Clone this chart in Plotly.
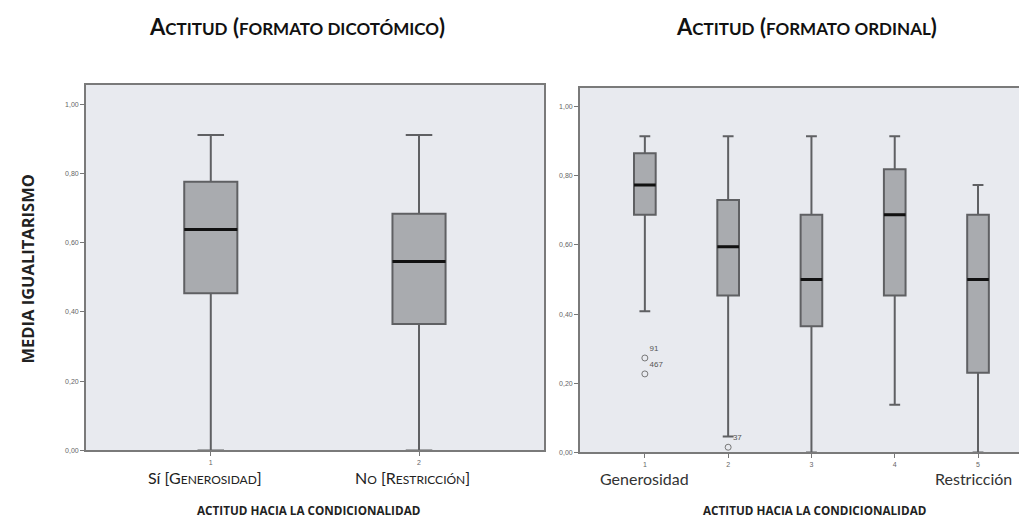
import plotly.graph_objects as go

# ---- data: left panel (dichotomous) ----
dico_cats = [1, 2]
dico_q1 = [0.454, 0.365]
dico_med = [0.638, 0.546]
dico_q3 = [0.776, 0.684]
dico_lo = [0.0, 0.0]
dico_hi = [0.911, 0.911]
dico_labels = ["Sí [G<span style='font-size:12px'>ENEROSIDAD</span>]",
               "N<span style='font-size:12px'>O</span> [R<span style='font-size:12px'>ESTRICCIÓN</span>]"]

# ---- data: right panel (ordinal) ----
ord_cats = [1, 2, 3, 4, 5]
ord_q1 = [0.687, 0.454, 0.365, 0.454, 0.230]
ord_med = [0.773, 0.595, 0.500, 0.687, 0.500]
ord_q3 = [0.865, 0.730, 0.687, 0.819, 0.687]
ord_lo = [0.408, 0.046, 0.0, 0.138, 0.0]
ord_hi = [0.914, 0.914, 0.914, 0.914, 0.773]
ord_end_labels = {1: "Generosidad", 5: "Restricción"}

# outliers (category, value, case label)
out_cat = [1, 1, 2]
out_val = [0.273, 0.227, 0.015]
out_lab = ["91", "467", "37"]

y_ticks = [0.0, 0.2, 0.4, 0.6, 0.8, 1.0]
y_ticktext = ["0,00", "0,20", "0,40", "0,60", "0,80", "1,00"]

titles = ["A<span style='font-size:17px'>CTITUD</span> (<span style='font-size:17px'>FORMATO DICOTÓMICO</span>)",
          "A<span style='font-size:17px'>CTITUD</span> (<span style='font-size:17px'>FORMATO ORDINAL</span>)"]

BOX_FILL = "#a9abaf"
BOX_LINE = "#5f6063"
BG = "#e8eaef"
FONT = "Lato"
FONT_B = "Open Sans"

fig = go.Figure()

def add_boxes(cats, q1, med, q3, lo, hi, width, xa, ya):
    fig.add_trace(go.Box(
        x=cats, q1=q1, median=med, q3=q3, lowerfence=lo, upperfence=hi,
        width=width, whiskerwidth=0.5, fillcolor=BOX_FILL,
        line=dict(color=BOX_LINE, width=2), boxpoints=False,
        xaxis=xa, yaxis=ya, showlegend=False, hoverinfo="skip"))
    mx, my = [], []
    for c, m in zip(cats, med):
        mx += [c - width / 2, c + width / 2, None]
        my += [m, m, None]
    fig.add_trace(go.Scatter(x=mx, y=my, mode="lines",
                             line=dict(color="#111111", width=3),
                             xaxis=xa, yaxis=ya, showlegend=False, hoverinfo="skip"))

add_boxes(dico_cats, dico_q1, dico_med, dico_q3, dico_lo, dico_hi, 0.255, "x", "y")
add_boxes(ord_cats, ord_q1, ord_med, ord_q3, ord_lo, ord_hi, 0.26, "x2", "y2")

fig.add_trace(go.Scatter(
    x=out_cat, y=out_val, mode="markers+text", text=out_lab,
    textposition="top right", textfont=dict(size=8, color="#555", family="Arial"),
    marker=dict(symbol="circle-open", size=6, color="#777", line=dict(width=1)),
    xaxis="x2", yaxis="y2", showlegend=False, hoverinfo="skip"))

axis_common = dict(showgrid=False, zeroline=False, showline=True, mirror=True,
                   linecolor="#7a7a7a", linewidth=1.5, ticks="outside", ticklen=4,
                   tickcolor="#777", tickfont=dict(size=7, color="#666", family="Arial"))

fig.update_layout(
    width=1027, height=518, margin=dict(l=0, r=0, t=0, b=0),
    paper_bgcolor="white", plot_bgcolor=BG,
    xaxis=dict(domain=[78 / 1027, 537 / 1027], range=[0.4, 2.6],
               tickvals=dico_cats, ticktext=[str(c) for c in dico_cats], **axis_common),
    yaxis=dict(domain=[(518 - 445) / 518, (518 - 77) / 518], range=[0, 1.057],
               tickvals=y_ticks, ticktext=y_ticktext, **axis_common),
    xaxis2=dict(domain=[573 / 1027, 1.0], range=[0.22, 5.66], anchor="y2",
                tickvals=ord_cats, ticktext=[str(c) for c in ord_cats], **axis_common),
    yaxis2=dict(domain=[(518 - 447) / 518, (518 - 80) / 518], range=[0, 1.055],
                anchor="x2", tickvals=y_ticks, ticktext=y_ticktext, **axis_common),
)

ann = []
# panel titles
for t, xc in zip(titles, (290, 800)):
    ann.append(dict(text=t, x=xc / 1027, y=1 - 19 / 518, xref="paper", yref="paper",
                    xanchor="center", yanchor="middle", showarrow=False,
                    font=dict(size=22, family=FONT, color="#111", weight="bold")))
# y title
ann.append(dict(text="MEDIA IGUALITARISMO", x=20 / 1027, y=1 - 262 / 518,
                xref="paper", yref="paper", textangle=-90, showarrow=False,
                xanchor="center", yanchor="middle",
                font=dict(size=16.5, family=FONT_B, color="#222", weight="bold")))
# x titles
for xc in (301, 808):
    ann.append(dict(text="ACTITUD HACIA LA CONDICIONALIDAD", x=xc / 1027, y=1 - 505 / 518,
                    xref="paper", yref="paper", showarrow=False,
                    xanchor="center", yanchor="middle",
                    font=dict(size=11.7, family=FONT_B, color="#222", weight="bold")))
# category names
for c, lab in zip(dico_cats, dico_labels):
    ann.append(dict(text=lab, x=c - 0.03, xref="x", y=1 - 484 / 518, yref="paper",
                    xanchor="center", showarrow=False,
                    font=dict(size=16, family=FONT, color="#222")))
for c, lab in ord_end_labels.items():
    ann.append(dict(text=lab, x=c - (0.05 if c == 5 else 0), xref="x2", y=1 - 485 / 518, yref="paper",
                    xanchor="center", showarrow=False,
                    font=dict(size=16, family=FONT, color="#333")))
fig.update_layout(annotations=ann)

fig.write_html("out.html")
